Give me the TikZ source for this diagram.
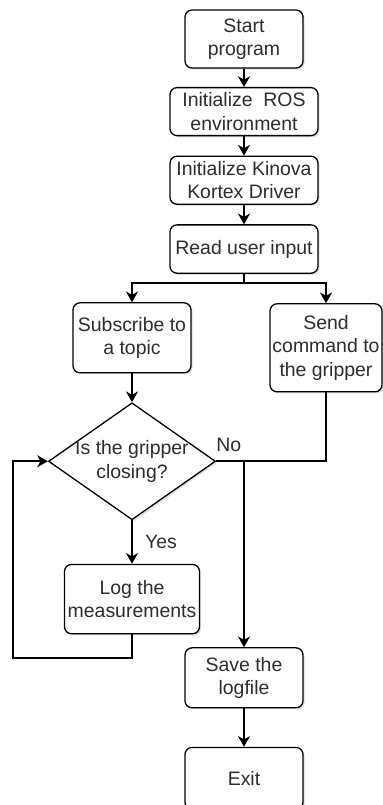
\documentclass[tikz,border=0pt]{standalone}
\usepackage{fontspec}
\setmainfont{Liberation Sans}
\usetikzlibrary{arrows.meta,positioning,shapes.geometric,calc,shadows}
\definecolor{flowText}{RGB}{45,45,45}
\definecolor{flowLine}{RGB}{0,0,0}
\tikzset{
  flowbox/.style={
    rectangle, rounded corners=6pt, draw=flowLine, line width=1.1pt,
    fill=white, text=flowText, align=center, inner sep=1pt,
    minimum width=3.54cm, minimum height=1.77cm,
    font=\fontsize{16.6}{20}\selectfont,
    drop shadow={shadow xshift=0.05cm, shadow yshift=-0.05cm, opacity=0.25}},
  widebox/.style={flowbox, minimum width=4.44cm, minimum height=1.44cm},
  decision/.style={
    flowbox, diamond, rounded corners=0pt, inner sep=0pt,
    minimum width=5.01cm, minimum height=3.51cm, aspect=1.43},
  arrowline/.style={-{Stealth[length=3.2mm,width=3.6mm,inset=1mm]},
    line width=1.7pt, draw=flowLine},
  plainline/.style={line width=1.7pt, draw=flowLine},
  lbl/.style={text=flowText, font=\fontsize{16.6}{20}\selectfont}
}

\begin{document}
\begin{tikzpicture}
  \useasboundingbox (0,0) rectangle (11.49,-24.15);

    % ---- main column -------------------------------------------
    \node[flowbox, minimum height=1.74cm] (start) at (7.32,-1.17) {Start\\program};
    \node[widebox, below=0.55cm of start]  (ros)    {Initialize\ \ ROS\\environment};
    \node[widebox, below=0.58cm of ros]   (kinova) {Initialize Kinova\\Kortex Driver};
    \node[widebox, below=0.58cm of kinova, minimum height=1.45cm] (read) {Read user input};

    \draw[arrowline] (start) -- (ros);
    \draw[arrowline] (ros)   -- (kinova);
    \draw[arrowline] (kinova) -- (read);

    % ---- two branches ------------------------------------------
    \node[flowbox, anchor=north, minimum height=2.1cm]
      (subscribe) at ($(read.south)+(-3.36,-0.85)$) {Subscribe to\\a topic};
    \node[flowbox, anchor=north, minimum width=3.36cm, minimum height=2.64cm]
      (send) at ($(read.south)+(2.46,-0.88)$) {Send\\command to\\the gripper};

    \coordinate (split) at ($(read.south)+(0,-0.28)$);
    \draw[plainline] (read) -- (split);
    \draw[arrowline] (split) -| (subscribe);
    \draw[arrowline] (split) -| (send);

    % ---- loop --------------------------------------------------
    \node[decision, below=0.86cm of subscribe] (closing)
      {\makebox[3cm]{Is the gripper}\\closing?};
    \node[flowbox, below=1.3cm of closing, minimum width=4.05cm, minimum height=2.08cm]
      (log) {Log the\\measurements};

    \draw[arrowline] (subscribe) -- (closing);
    \draw[arrowline] (closing) -- node[lbl, right=7pt, pos=0.5] {Yes} (log);
    \draw[arrowline] (log.south) -- ++(0,-0.72) -| ([xshift=-1.05cm]closing.west) -- (closing.west);

    % ---- end ---------------------------------------------------
    \node[flowbox, anchor=north, minimum height=1.8cm]
      (save) at ($(read.south)+(0,-11.2)$) {Save the\\logfile};
    \node[flowbox, below=1.15cm of save, minimum height=1.86cm] (exit) {Exit};

    \coordinate (join) at (save |- closing.east);
    \draw[plainline] (closing.east) -- node[lbl, above=4pt, pos=0.45] {No} (join);
    \draw[plainline] (send) |- (join);
    \draw[arrowline] (join) -- (save);
    \draw[arrowline] (save) -- (exit);

  \end{tikzpicture}
\end{document}
